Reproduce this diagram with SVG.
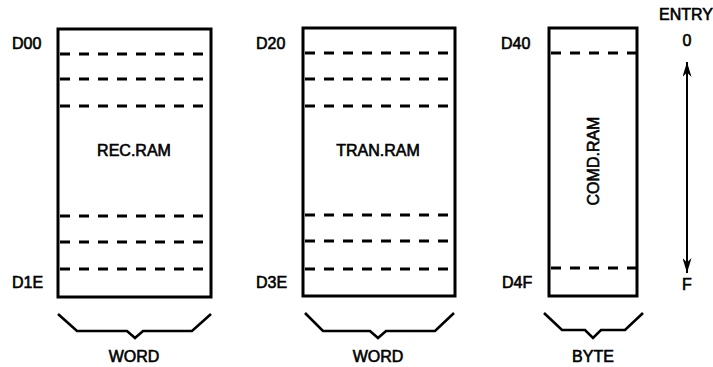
<svg xmlns="http://www.w3.org/2000/svg" width="713" height="367" viewBox="0 0 713 367">
<style>
.box{fill:none;stroke:#000;stroke-width:3}
.dash{stroke:#000;stroke-width:2.8;stroke-dasharray:10 9}
.brace{fill:none;stroke:#000;stroke-width:2.6;stroke-linejoin:miter}
text{font-family:"Liberation Sans",Arial,sans-serif;font-size:16px;fill:#000;stroke:#000;stroke-width:0.6}
.c{text-anchor:middle}
</style>
<defs>
<marker id="ah" viewBox="0 0 10 10" refX="10" refY="5" markerWidth="15" markerHeight="9" markerUnits="userSpaceOnUse" orient="auto" preserveAspectRatio="none">
<path d="M0,0 L10,5 L0,10 L3,5 z" fill="#000"/>
</marker>
</defs>
<rect width="713" height="367" fill="#fff"/>
<g id="rec">
<rect class="box" x="58" y="29" width="153" height="268"/>
<line class="dash" x1="60" y1="54" x2="210" y2="54"/>
<line class="dash" x1="60" y1="79" x2="210" y2="79"/>
<line class="dash" x1="60" y1="106" x2="210" y2="106"/>
<line class="dash" x1="60" y1="216" x2="210" y2="216"/>
<line class="dash" x1="60" y1="242" x2="210" y2="242"/>
<line class="dash" x1="60" y1="269" x2="210" y2="269"/>
<text class="c" x="134" y="156">REC.RAM</text>
<text x="12" y="49">D00</text>
<text x="12" y="288">D1E</text>
<path class="brace" d="M58,314 L77,331 L127,331 L135,338 L143,331 L192,331 L211,314"/>
<text class="c" x="134" y="362">WORD</text>
</g>
<g id="tran">
<rect class="box" x="303" y="28" width="152" height="268"/>
<line class="dash" x1="305" y1="53" x2="454" y2="53"/>
<line class="dash" x1="305" y1="79" x2="454" y2="79"/>
<line class="dash" x1="305" y1="106" x2="454" y2="106"/>
<line class="dash" x1="305" y1="215" x2="454" y2="215"/>
<line class="dash" x1="305" y1="241" x2="454" y2="241"/>
<line class="dash" x1="305" y1="269" x2="454" y2="269"/>
<text class="c" x="378" y="156">TRAN.RAM</text>
<text x="256" y="49">D20</text>
<text x="256" y="288">D3E</text>
<path class="brace" d="M305,313 L323,331 L370,331 L378,338 L386,331 L435,331 L454,313"/>
<text class="c" x="378" y="362">WORD</text>
</g>
<g id="comd">
<rect class="box" x="549" y="28" width="88" height="268"/>
<line class="dash" x1="551" y1="53" x2="636" y2="53"/>
<line class="dash" x1="551" y1="268" x2="636" y2="268"/>
<text class="c" transform="translate(599,161) rotate(-90)">COMD.RAM</text>
<text x="501" y="49">D40</text>
<text x="502" y="288">D4F</text>
<path class="brace" d="M544,313 L562,330 L585,330 L593,338 L601,330 L625,330 L643,313"/>
<text class="c" x="593" y="362">BYTE</text>
</g>
<g id="entry">
<text class="c" x="686" y="20">ENTRY</text>
<text class="c" x="687" y="46">0</text>
<text class="c" x="687" y="290">F</text>
</g>
<g id="connectors">
<line x1="687" y1="160" x2="687" y2="62" stroke="#000" stroke-width="2" marker-end="url(#ah)"/>
<line x1="687" y1="160" x2="687" y2="273" stroke="#000" stroke-width="2" marker-end="url(#ah)"/>
</g>
</svg>
